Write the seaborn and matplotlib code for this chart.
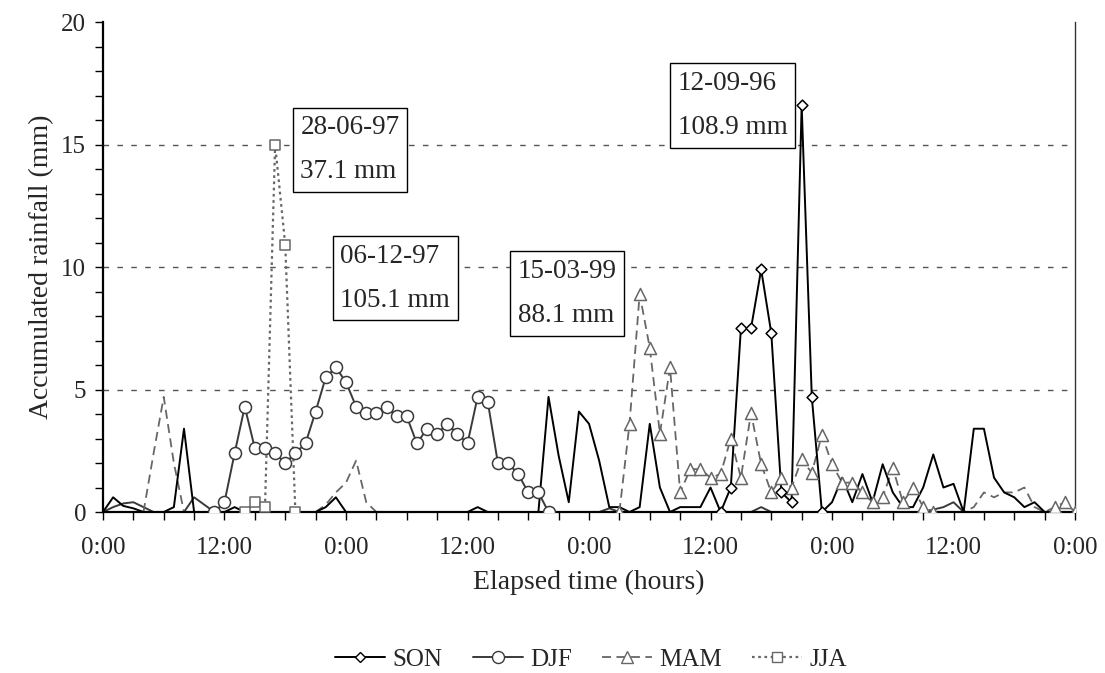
import numpy as np
import pandas as pd
import matplotlib
matplotlib.use("Agg")
import matplotlib.pyplot as plt
from matplotlib.lines import Line2D
from matplotlib.ticker import MultipleLocator, FixedLocator
import seaborn as sns

# ---------------- data (hourly values, mm) ----------------
# each segment: (start hour, values for consecutive hours)
son_segments = [
    (0, [0, 0.6, 0.25, 0.15, 0]),
    (6, [0, 0.2, 3.4, 0]),
    (12, [0, 0.2, 0]),
    (21, [0, 0.2, 0.6, 0]),
    (36, [0, 0.2, 0]),
    (43, [0, 4.7, 2.3, 0.4, 4.1, 3.6, 2.1, 0.2, 0.2, 0, 0.2, 3.6, 1.0, 0,
          0.2, 0.2, 0.2, 1.0, 0, 1.0, 7.5, 7.5, 9.9, 7.3, 0.8, 0.4, 16.6,
          4.7, 0, 0.4, 1.4, 0.4, 1.55, 0.4, 1.95, 0.8, 0.2, 0.2, 1.0, 2.35,
          1.0, 1.15, 0, 3.4, 3.4, 1.4, 0.8, 0.6, 0.2, 0.4, 0]),
]
son_marker_hours = list(range(61, 72))

djf_segments = [
    (0, [0, 0.2, 0.35, 0.4, 0.2, 0]),
    (8, [0, 0.6, 0.3, 0, 0.4, 2.4, 4.3, 2.6, 2.6, 2.4, 2.0, 2.4, 2.8, 4.1,
         5.5, 5.9, 5.3, 4.3, 4.05, 4.05, 4.3, 3.9, 3.9, 2.8, 3.4, 3.2, 3.6,
         3.2, 2.8, 4.7, 4.5, 2.0, 2.0, 1.55, 0.8, 0.8, 0]),
    (49, [0, 0.15, 0]),
    (64, [0, 0.2, 0]),
    (81, [0, 0.1, 0.2, 0.4, 0]),
]
djf_marker_hours = list(range(11, 45))

mam_segments = [
    (4, [0, 2.4, 4.7, 2.0, 0]),
    (21, [0, 0.3, 0.8, 1.2, 2.1, 0.4, 0]),
    (51, [0, 3.6, 8.9, 6.7, 3.2, 5.9, 0.8, 1.75, 1.75, 1.4, 1.55, 3.0, 1.4,
          4.05, 1.95, 0.8, 1.4, 1.0, 2.15, 1.6, 3.15, 1.95, 1.2, 1.2, 0.8,
          0.4, 0.6, 1.8, 0.4, 1.0, 0.2, 0, 0, 0, 0, 0.2, 0.8, 0.6, 0.8, 0.8,
          1.0, 0.2, 0, 0.2, 0.4, 0]),
]
mam_marker_hours = list(range(51, 83)) + [94, 95, 96]

jja_segments = [
    (14, [0, 0.4, 0.2, 15.0, 10.9, 0]),
]
jja_marker_hours = list(range(14, 20))

seasons = ["SON", "DJF", "MAM", "JJA"]
x_tick_labels = ["0:00", "12:00", "0:00", "12:00", "0:00", "12:00", "0:00", "12:00", "0:00"]
event_labels = {
    "JJA": "28-06-97\n37.1 mm",
    "DJF": "06-12-97\n105.1 mm",
    "MAM": "15-03-99\n88.1 mm",
    "SON": "12-09-96\n108.9 mm",
}

# ---------------- build long table ----------------
rows = []
seg_map = {"SON": son_segments, "DJF": djf_segments, "MAM": mam_segments, "JJA": jja_segments}
mark_map = {"SON": son_marker_hours, "DJF": djf_marker_hours, "MAM": mam_marker_hours, "JJA": jja_marker_hours}
for s in seasons:
    for k, (start, vals) in enumerate(seg_map[s]):
        for j, v in enumerate(vals):
            h = start + j
            rows.append(dict(season=s, seg=f"{s}{k}", hour=h, value=v))
df = pd.DataFrame(rows)
df["marked"] = [h in mark_map[s] for s, h in zip(df.season, df.hour)]

# ---------------- style ----------------
sns.set_theme(style="white")
plt.rcParams["font.family"] = ["Liberation Serif", "DejaVu Serif"]

styles = {
    "SON": dict(color="#000000", ls="-", marker="D", ms=30, lw=1.4),
    "DJF": dict(color="#3a3a3a", ls="-", marker="o", ms=75, lw=1.4),
    "MAM": dict(color="#676767", ls=(0, (5, 3)), marker="^", ms=75, lw=1.3),
    "JJA": dict(color="#676767", ls=(0, (1.2, 1.6)), marker="s", ms=50, lw=1.6),
}

fig = plt.figure(figsize=(11.05, 6.73), dpi=100)
ax = fig.add_axes([0.0932, 0.2392, 0.8797, 0.7281])

# grid lines
for yv in [5, 10, 15]:
    ax.axhline(yv, color="#555555", lw=1.0, ls=(0, (4, 6)), zorder=0.5)

draw_order = ["DJF", "MAM", "SON", "JJA"]
for s in draw_order:
    st = styles[s]
    sub = df[df.season == s]
    sns.lineplot(data=sub, x="hour", y="value", units="seg", estimator=None,
                 sort=False, color=st["color"], linewidth=st["lw"],
                 linestyle=st["ls"], ax=ax, legend=False, zorder=2)
for s in draw_order:
    st = styles[s]
    sub = df[(df.season == s) & df.marked]
    sns.scatterplot(data=sub, x="hour", y="value", marker=st["marker"],
                    s=st["ms"], facecolor="white", edgecolor=st["color"],
                    linewidth=1.1, ax=ax, legend=False, zorder=3)

ax.set_xlim(0, 96)
ax.set_ylim(0, 20)
ax.xaxis.set_major_locator(FixedLocator(np.arange(0, 97, 12)))
ax.set_xticklabels(x_tick_labels)
ax.xaxis.set_minor_locator(MultipleLocator(3))
ax.yaxis.set_major_locator(MultipleLocator(5))
ax.yaxis.set_minor_locator(MultipleLocator(1))
ax.tick_params(axis="both", which="both", direction="out", color="black",
               labelsize=18, width=1.0)
ax.tick_params(axis="x", which="major", length=6, pad=12)
ax.tick_params(axis="x", which="minor", length=6)
ax.tick_params(axis="y", which="major", length=6, pad=6)
ax.tick_params(axis="y", which="minor", length=6)
ax.tick_params(bottom=True, left=True, which="both")

for side in ["left", "bottom"]:
    ax.spines[side].set_color("black")
    ax.spines[side].set_linewidth(1.6)
ax.spines["right"].set_color("#333333")
ax.spines["right"].set_linewidth(1.0)
ax.spines["top"].set_visible(False)

ax.set_xlabel("Elapsed time (hours)", fontsize=20, labelpad=8)
ax.set_ylabel("Accumulated rainfall (mm)", fontsize=20, labelpad=5)

# annotation boxes
box = dict(boxstyle="square,pad=0.28", facecolor="white", edgecolor="black", lw=1.0)
ann_kw = dict(fontsize=19.5, ha="left", va="center", linespacing=2.0, bbox=box, zorder=5)
ax.text(19.5, 14.78, event_labels["JJA"], **ann_kw)
ax.text(23.45, 9.55, event_labels["DJF"], **ann_kw)
ax.text(40.95, 8.92, event_labels["MAM"], **ann_kw)
ax.text(56.75, 16.59, event_labels["SON"], **ann_kw)

# legend
handles = []
for s in seasons:
    st = styles[s]
    handles.append(Line2D([], [], color=st["color"], ls=st["ls"], lw=st["lw"],
                          marker=st["marker"], markersize=np.sqrt(st["ms"]),
                          markerfacecolor="white", markeredgecolor=st["color"]))
fig.legend(handles, seasons, loc="center", bbox_to_anchor=(0.535, 0.02),
           ncol=4, frameon=False, fontsize=18, handlelength=2.0,
           columnspacing=1.2, handletextpad=0.3)

fig.savefig("out.png", dpi=100)
